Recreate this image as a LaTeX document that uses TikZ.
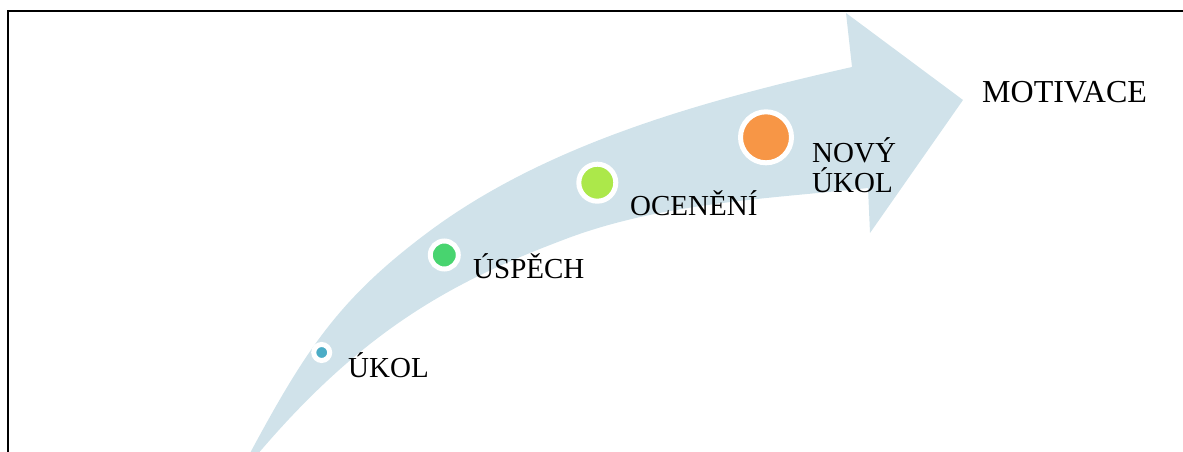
\documentclass[tikz,border=0pt]{standalone}
\usepackage{fontspec}
\setmainfont{Liberation Serif}
\definecolor{bandblue}{RGB}{208,226,234}
\definecolor{dotaqua}{RGB}{75,172,198}
\definecolor{dotgreen}{RGB}{72,212,111}
\definecolor{dotlime}{RGB}{172,232,74}
\definecolor{dotorange}{RGB}{247,150,70}
\tikzset{
  stepdot/.style={circle, inner sep=0pt, outer sep=0pt, draw=white, line width=5pt},
  steplabel/.style={anchor=base west, inner sep=0pt, font=\fontsize{29}{30}\selectfont, align=left},
  goallabel/.style={anchor=base west, inner sep=0pt, font=\fontsize{32}{34}\selectfont},
}
\begin{document}
\begin{tikzpicture}[x=1pt, y=-1pt]
  \useasboundingbox (0,0) rectangle (1183,452);
  \begin{scope}
    \clip (0,0) rectangle (1183,452);
    % curved arrow band
    \fill[bandblue]
      (249,455) .. controls (306,349) and (339,299) .. (427,233)
                .. controls (547,143) and (706,100) .. (852,67)
      -- (846,13) -- (963,100) -- (870,233) -- (868,188)
                .. controls (766,199) and (659,203) .. (563,240)
                .. controls (460,279) and (367,325) .. (257,455)
      -- cycle;
  \end{scope}
  % frame
  \draw[line width=2pt] (8,453) -- (8,11.3) -- (1184,11.3);
  % steps
  \node[stepdot, minimum size=16pt, fill=dotaqua]   (d1) at (321.7,352.5) {};
  \node[stepdot, minimum size=28pt, fill=dotgreen]  (d2) at (444.3,255) {};
  \node[stepdot, minimum size=37pt, fill=dotlime]   (d3) at (597.3,182.7) {};
  \node[stepdot, minimum size=51pt, fill=dotorange] (d4) at (766,137.3) {};
  \node[steplabel] (l1) at (348,377) {ÚKOL};
  \node[steplabel] (l2) at (473,278) {ÚSPĚCH};
  \node[steplabel] (l3) at (630,215) {OCENĚNÍ};
  \node[steplabel] (l4a) at (812,162) {NOVÝ};
  \node[steplabel] (l4b) at (812,192) {ÚKOL};
  \node[goallabel] (goal) at (982,102) {MOTIVACE};
\end{tikzpicture}
\end{document}
